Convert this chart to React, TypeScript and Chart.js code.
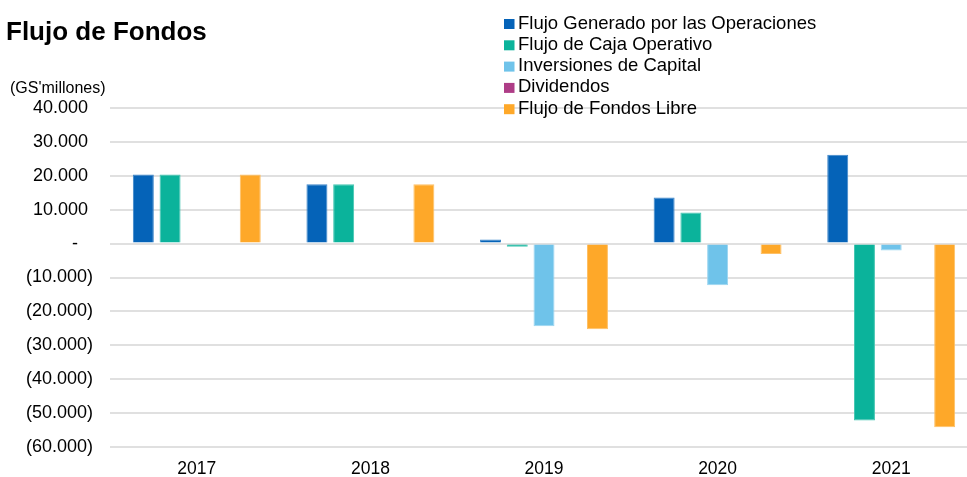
import React, { useEffect, useRef } from "react";
import { Chart, registerables } from "chart.js";

Chart.register(...registerables);

const categories = ["2017", "2018", "2019", "2020", "2021"];
const seriesNames = [
  "Flujo Generado por las Operaciones",
  "Flujo de Caja Operativo",
  "Inversiones de Capital",
  "Dividendos",
  "Flujo de Fondos Libre",
];
const flujoGenerado = [20400, 17500, 1200, 13600, 26200];
const flujoCaja = [20400, 17500, -900, 9200, -52200];
const inversiones = [0, 0, -24400, -12300, -2000];
const dividendos = [0, 0, 0, 0, 0];
const flujoLibre = [20400, 17500, -25300, -3100, -54200];
const seriesColors = ["#0563B8", "#0BB39B", "#6FC3EA", "#AE3D87", "#FEA829"];
const borderColors = ["#3E86C9", "#45C6B2", "#9AD5F0", "#C46FA7", "#FEC066"];

const chartTitle = "Flujo de Fondos";
const unitLabel = "(GS'millones)";
const yMin = -60000;
const yMax = 40000;
const yStep = 10000;

const FONT = "'Liberation Sans', Arial, sans-serif";

function thousands(n: number): string {
  return Math.round(n).toString().replace(/\B(?=(\d{3})+(?!\d))/g, ".");
}
function fmtTick(v: number): string {
  if (v === 0) return "-   ";
  if (v < 0) return `(${thousands(-v)})`;
  return `${thousands(v)} `;
}

const overlayPlugin = {
  id: "overlayText",
  afterDraw(chart: any) {
    const ctx = chart.ctx;
    ctx.save();
    ctx.fillStyle = "#000";
    ctx.textAlign = "left";
    ctx.textBaseline = "alphabetic";
    ctx.font = `bold 26px ${FONT}`;
    ctx.fillText(chartTitle, 6, 39.5);
    ctx.font = `16px ${FONT}`;
    ctx.fillText(unitLabel, 10, 93);
    ctx.font = `18.5px ${FONT}`;
    chart.data.datasets.forEach((ds: any, i: number) => {
      const base = 28.5 + i * 21.3;
      ctx.fillStyle = ds.backgroundColor;
      ctx.fillRect(504, base - 9.5, 10.5, 10);
      ctx.fillStyle = "#000";
      ctx.fillText(ds.label, 518, base);
    });
    ctx.restore();
  },
};

export default function App() {
  const ref = useRef<HTMLCanvasElement | null>(null);
  useEffect(() => {
    if (!ref.current) return;
    const values = [flujoGenerado, flujoCaja, inversiones, dividendos, flujoLibre];
    const chart = new Chart(ref.current, {
      type: "bar",
      data: {
        labels: categories,
        datasets: values.map((v, i) => ({
          label: seriesNames[i],
          data: v,
          backgroundColor: seriesColors[i],
          borderColor: borderColors[i],
          borderWidth: i === 3 ? 0 : 1,
          categoryPercentage: 0.77,
          barPercentage: 0.785,
        })),
      },
      options: {
        responsive: false,
        animation: false,
        layout: { padding: { top: 108, left: 0, right: 12, bottom: 0 } },
        plugins: {
          legend: { display: false },
          title: { display: false },
          tooltip: { enabled: false },
        },
        scales: {
          x: {
            grid: { display: false, drawTicks: false },
            border: { display: false },
            ticks: {
              color: "#000",
              font: { family: FONT, size: 17.5 },
              padding: 12,
              maxRotation: 0,
            },
            afterFit: (s: any) => {
              s.height = 30;
            },
          },
          y: {
            min: yMin,
            max: yMax,
            grid: { color: "#E0E0E0", lineWidth: 2, drawTicks: false },
            border: { display: false },
            ticks: {
              stepSize: yStep,
              color: "#000",
              font: { family: FONT, size: 18 },
              padding: 17,
              callback: (v: any) => fmtTick(Number(v)),
            },
            afterFit: (s: any) => {
              s.width = 110;
            },
          },
        },
      },
      plugins: [overlayPlugin],
    });
    return () => chart.destroy();
  }, []);
  return (
    <div
      style={{
        position: "absolute",
        left: 0,
        top: 0,
        width: 967,
        height: 477,
        overflow: "hidden",
        background: "#fff",
      }}
    >
      <canvas ref={ref} width={990} height={477} style={{ display: "block" }} />
    </div>
  );
}
